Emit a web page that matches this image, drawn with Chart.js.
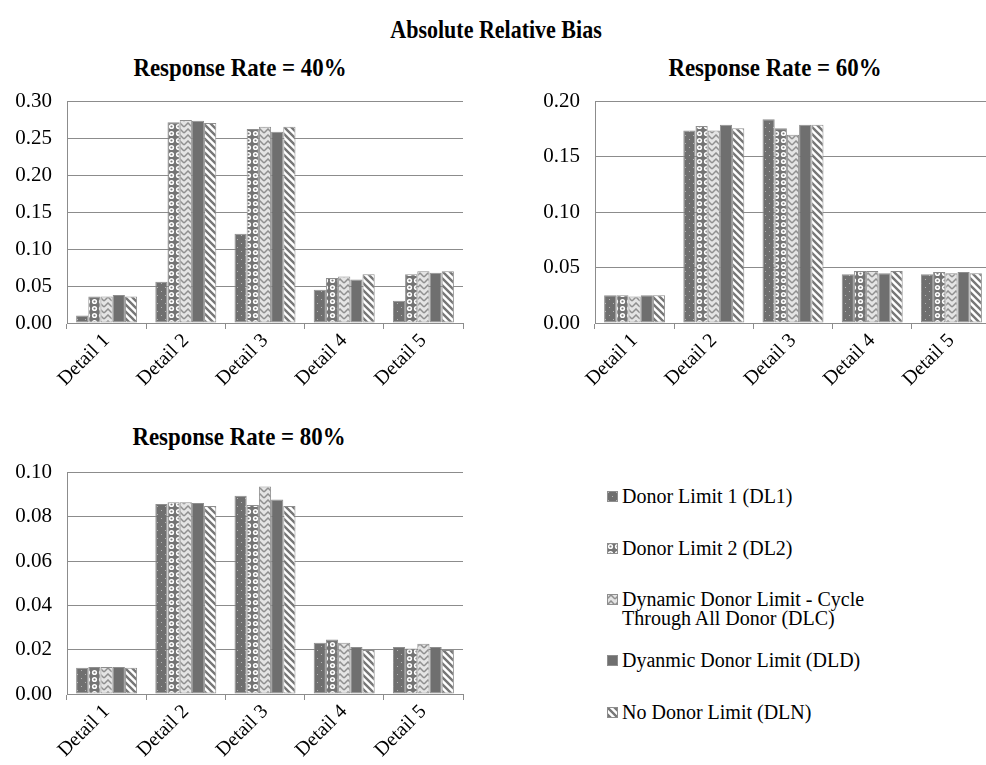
<!DOCTYPE html>
<html>
<head>
<meta charset="utf-8">
<script src="https://cdn.jsdelivr.net/npm/chart.js@4.4.1/dist/chart.umd.min.js"></script>
<style>
  html, body { margin: 0; padding: 0; background: #fff; overflow: hidden; }
  #wrap { position: relative; width: 986px; height: 765px; overflow: hidden; background: #fff;
          font-family: "Liberation Serif", Tinos, "Times New Roman", "DejaVu Serif", serif; color: #000; }
  canvas { position: absolute; }
  .ttl { position: absolute; font-weight: bold; white-space: nowrap; font-size: 26px;
         transform: translate(-50%, -50%) scaleX(0.88); }
  .legend { position: absolute; left: 607px; top: 0; font-size: 20px; }
  .legend .row { position: absolute; left: 0; white-space: nowrap; line-height: 19px; }
  .legend canvas { position: absolute; left: 0; top: 4px; }
  .legend span { position: absolute; left: 15px; top: 0; }
</style>
</head>
<body>
<div id="wrap">
  <div class="ttl" style="left:496px; top:30px; font-size:25px;">Absolute Relative Bias</div>
  <div class="ttl" style="left:240px; top:68px;">Response Rate = 40%</div>
  <div class="ttl" style="left:775px; top:68px;">Response Rate = 60%</div>
  <div class="ttl" style="left:239px; top:437px;">Response Rate = 80%</div>

  <canvas id="c40" width="480" height="319" style="left:0; top:74px;"></canvas>
  <canvas id="c60" width="480" height="319" style="left:528px; top:74px;"></canvas>
  <canvas id="c80" width="480" height="319" style="left:0; top:445px;"></canvas>

  <div class="legend" id="legend"></div>
</div>

<script>
// categories and series
const categories = ['Detail 1', 'Detail 2', 'Detail 3', 'Detail 4', 'Detail 5'];
const seriesNames = [
  'Donor Limit 1 (DL1)',
  'Donor Limit 2 (DL2)',
  'Dynamic Donor Limit - Cycle\nThrough All Donor (DLC)',
  'Dyanmic Donor Limit (DLD)',
  'No Donor Limit (DLN)'
];

// Response Rate = 40%
const rr40_DL1 = [0.010, 0.056, 0.121, 0.045, 0.030];
const rr40_DL2 = [0.036, 0.272, 0.263, 0.061, 0.066];
const rr40_DLC = [0.036, 0.275, 0.266, 0.063, 0.070];
const rr40_DLD = [0.038, 0.274, 0.259, 0.059, 0.068];
const rr40_DLN = [0.036, 0.271, 0.266, 0.066, 0.070];

// Response Rate = 60%
const rr60_DL1 = [0.025, 0.174, 0.184, 0.044, 0.044];
const rr60_DL2 = [0.025, 0.178, 0.176, 0.047, 0.046];
const rr60_DLC = [0.024, 0.174, 0.170, 0.047, 0.045];
const rr60_DLD = [0.025, 0.179, 0.179, 0.045, 0.046];
const rr60_DLN = [0.025, 0.176, 0.179, 0.047, 0.045];

// Response Rate = 80%
const rr80_DL1 = [0.0118, 0.0858, 0.0896, 0.0231, 0.0212];
const rr80_DL2 = [0.0122, 0.0866, 0.0854, 0.0246, 0.0206];
const rr80_DLC = [0.0122, 0.0866, 0.0937, 0.0231, 0.0227];
const rr80_DLD = [0.0122, 0.0863, 0.0879, 0.0212, 0.0212];
const rr80_DLN = [0.0118, 0.0849, 0.0849, 0.0199, 0.0199];

// y axis ticks
const ticks40 = [0, 0.05, 0.10, 0.15, 0.20, 0.25, 0.30];
const ticks60 = [0, 0.05, 0.10, 0.15, 0.20];
const ticks80 = [0, 0.02, 0.04, 0.06, 0.08, 0.10];

const FONT = '"Liberation Serif", Tinos, "Times New Roman", "DejaVu Serif", serif';
const DARK = '#6f6f6f';
const EDGE = '#8e8e8e';
const GRID = '#8c8c8c';

// fill patterns, one per series
function makePattern(kind) {
  const c = document.createElement('canvas');
  const g = c.getContext('2d');
  if (kind === 'dots') {
    c.width = 8; c.height = 8;
    g.fillStyle = DARK; g.fillRect(0, 0, 8, 8);
    g.fillStyle = '#b4b4b4';
    g.fillRect(1, 1, 1, 1); g.fillRect(5, 5, 1, 1);
  } else if (kind === 'circles') {
    c.width = 7; c.height = 7;
    g.fillStyle = '#747474'; g.fillRect(0, 0, 7, 7);
    g.fillStyle = '#ffffff';
    g.beginPath(); g.arc(3.5, 3.5, 2.6, 0, Math.PI * 2); g.fill();
    g.fillStyle = '#7a7a7a';
    g.beginPath(); g.arc(3.5, 3.5, 1.1, 0, Math.PI * 2); g.fill();
  } else if (kind === 'zigzag') {
    c.width = 8; c.height = 6;
    g.fillStyle = '#e4e4e4'; g.fillRect(0, 0, 8, 6);
    g.strokeStyle = '#8f8f8f'; g.lineWidth = 1.5;
    g.beginPath();
    g.moveTo(0, 5); g.lineTo(4, 1); g.lineTo(8, 5);
    g.stroke();
  } else if (kind === 'solid') {
    c.width = 2; c.height = 2;
    g.fillStyle = DARK; g.fillRect(0, 0, 2, 2);
  } else if (kind === 'stripes') {
    c.width = 7; c.height = 7;
    g.fillStyle = '#ffffff'; g.fillRect(0, 0, 7, 7);
    g.strokeStyle = '#777777'; g.lineWidth = 2.4;
    g.beginPath();
    g.moveTo(-1, -1); g.lineTo(8, 8);
    g.moveTo(-1, 6); g.lineTo(1, 8);
    g.moveTo(6, -1); g.lineTo(8, 1);
    g.stroke();
  }
  return g.createPattern(c, 'repeat');
}

const patternKinds = ['dots', 'circles', 'zigzag', 'solid', 'stripes'];
const fills = patternKinds.map(makePattern);

function buildChart(id, seriesData, tickValues, maxY) {
  const datasets = seriesData.map((vals, i) => ({
    label: seriesNames[i],
    data: vals,
    backgroundColor: fills[i],
    borderColor: EDGE,
    borderWidth: 1,
    borderSkipped: false,
    categoryPercentage: 0.77,
    barPercentage: 1.0
  }));

  return new Chart(document.getElementById(id), {
    type: 'bar',
    data: { labels: categories, datasets: datasets },
    options: {
      responsive: false,
      animation: false,
      devicePixelRatio: 1,
      layout: { padding: { top: 15, right: 17, bottom: 0, left: 0 } },
      plugins: { legend: { display: false }, tooltip: { enabled: false }, title: { display: false } },
      scales: {
        x: {
          grid: { offset: true, drawOnChartArea: false, drawTicks: true, tickLength: 6, color: GRID },
          border: { display: true, color: GRID, width: 1 },
          ticks: {
            color: '#000', font: { family: FONT, size: 20 },
            minRotation: 45, maxRotation: 45, padding: 0
          },
          afterFit: (scale) => { scale.height = 70; }
        },
        y: {
          min: 0, max: maxY,
          afterBuildTicks: (scale) => { scale.ticks = tickValues.map(v => ({ value: v })); },
          grid: { color: GRID, drawTicks: false, lineWidth: 1 },
          border: { display: true, color: GRID, width: 1 },
          ticks: {
            color: '#000', font: { family: FONT, size: 21 }, padding: 15,
            callback: (v) => Number(v).toFixed(2)
          },
          afterFit: (scale) => { scale.width = 67; }
        }
      }
    }
  });
}

buildChart('c40', [rr40_DL1, rr40_DL2, rr40_DLC, rr40_DLD, rr40_DLN], ticks40, 0.30);
buildChart('c60', [rr60_DL1, rr60_DL2, rr60_DLC, rr60_DLD, rr60_DLN], ticks60, 0.20);
buildChart('c80', [rr80_DL1, rr80_DL2, rr80_DLC, rr80_DLD, rr80_DLN], ticks80, 0.10);

// legend (separate from the plots, right of the 80% chart)
const legendTops = [487, 539, 590, 651, 703];
const legend = document.getElementById('legend');
seriesNames.forEach((name, i) => {
  const row = document.createElement('div');
  row.className = 'row';
  row.style.top = legendTops[i] + 'px';
  const sw = document.createElement('canvas');
  sw.width = 11; sw.height = 11;
  const g = sw.getContext('2d');
  g.fillStyle = fills[i]; g.fillRect(0, 0, 11, 11);
  g.strokeStyle = EDGE; g.lineWidth = 1; g.strokeRect(0.5, 0.5, 10, 10);
  row.appendChild(sw);
  const sp = document.createElement('span');
  sp.innerHTML = name.split('\n').join('<br>');
  row.appendChild(sp);
  legend.appendChild(row);
});
</script>
</body>
</html>
